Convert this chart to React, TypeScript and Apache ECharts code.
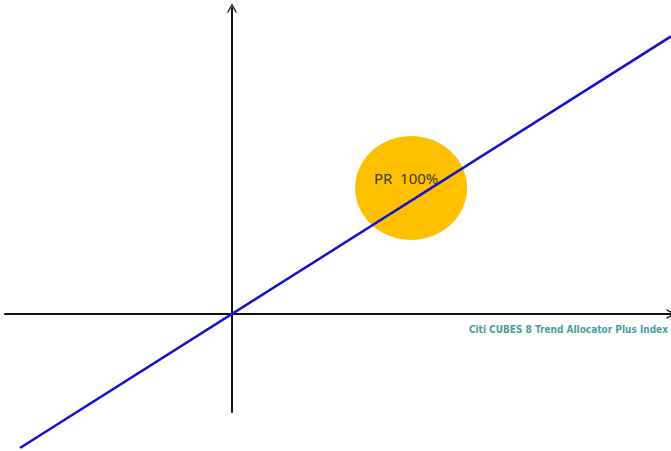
import React, { useEffect, useRef } from "react";
import * as echarts from "echarts";

// Payoff line: index return vs. note return (participation rate 100%)
const lineX = [-0.934, 1.934];
const participation = 1.0;
const lineY = lineX.map((x) => x * participation);

// Highlight bubble
const bubbleLabel = "PR  100%";
const bubbleCenter = [0.789, 0.878];

const xAxisName = "Citi CUBES 8 Trend Allocator Plus Index";

const X_MIN = -1;
const X_MAX = 1.934;
const Y_MIN = -0.683;
const Y_MAX = 2.132;

export default function App() {
  const ref = useRef<HTMLDivElement>(null);
  useEffect(() => {
    if (!ref.current) return;
    const chart = echarts.init(ref.current, undefined, { renderer: "svg" });
    const arrow = "path://M5,0 L10,9 L8.6,9 L5,2.6 L1.4,9 L0,9 Z";
    chart.setOption({
      animation: false,
      backgroundColor: "#ffffff",
      grid: { left: 5, right: 0, top: 8, bottom: 39, containLabel: false },
      xAxis: {
        type: "value",
        min: X_MIN,
        max: X_MAX,
        name: xAxisName,
        nameLocation: "end",
        nameGap: -3,
        nameTextStyle: {
          align: "right",
          verticalAlign: "top",
          padding: [11, 0, 0, 0],
          color: "#4a9ca0",
          fontFamily: "'DejaVu Sans Condensed', Roboto, sans-serif",
          fontWeight: "bold",
          fontSize: 10,
        },
        axisLine: {
          onZero: true,
          symbol: ["none", arrow],
          symbolSize: [11, 9],
          lineStyle: { color: "#111", width: 2 },
        },
        axisTick: { show: false },
        axisLabel: { show: false },
        splitLine: { show: false },
      },
      yAxis: {
        type: "value",
        min: Y_MIN,
        max: Y_MAX,
        axisLine: {
          onZero: true,
          symbol: ["none", arrow],
          symbolSize: [11, 9],
          lineStyle: { color: "#111", width: 2 },
        },
        axisTick: { show: false },
        axisLabel: { show: false },
        splitLine: { show: false },
      },
      series: [
        {
          type: "scatter",
          data: [bubbleCenter],
          symbol: "circle",
          symbolSize: [112, 104],
          itemStyle: { color: "#ffc000", opacity: 1 },
          z: 1,
          label: {
            show: true,
            position: "inside",
            formatter: bubbleLabel,
            offset: [-5, -10],
            color: "#3a3a2a",
            fontSize: 15,
            fontFamily: "'Noto Sans', sans-serif",
          },
          silent: true,
        },
        {
          type: "line",
          data: lineX.map((x, i) => [x, lineY[i]]),
          clip: false,
          symbol: "none",
          lineStyle: { color: "#1212cc", width: 2.5 },
          z: 3,
          silent: true,
        },
      ],
    });
    return () => chart.dispose();
  }, []);
  return (
    <div
      ref={ref}
      style={{ position: "fixed", left: 0, top: 0, width: 671, height: 451, background: "#fff" }}
    />
  );
}
